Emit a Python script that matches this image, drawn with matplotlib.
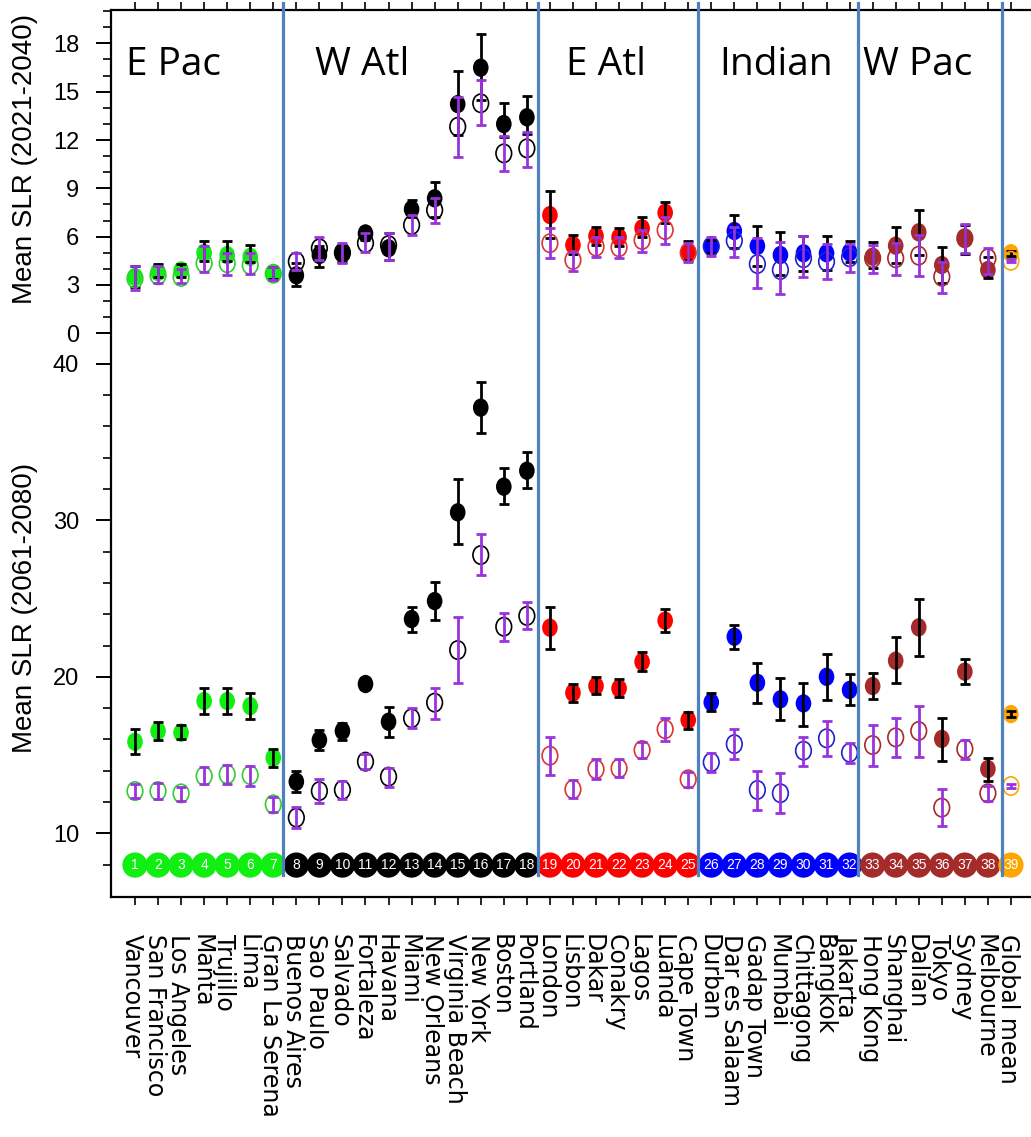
import matplotlib
matplotlib.use('Agg')
import matplotlib.pyplot as plt
import matplotlib.transforms as mtransforms
import numpy as np
from matplotlib.path import Path

plt.rcParams['font.family'] = ['Liberation Sans', 'DejaVu Sans']

# city names, left to right
cities = ["Vancouver", "San Francisco", "Los Angeles", "Manta", "Trujillo", "Lima",
          "Gran La Serena", "Buenos Aires", "Sao Paulo", "Salvado", "Fortaleza", "Havana",
          "Miami", "New Orleans", "Virginia Beach", "New York", "Boston", "Portland",
          "London", "Lisbon", "Dakar", "Conakry", "Lagos", "Luanda", "Cape Town",
          "Durban", "Dar es Salaam", "Gadap Town", "Mumbai", "Chittagong", "Bangkok",
          "Jakarta", "Hong Kong", "Shanghai", "Dalian", "Tokyo", "Sydney", "Melbourne",
          "Global mean"]

# region of each city (index into region lists)
region = [0] * 7 + [1] * 11 + [2] * 7 + [3] * 7 + [4] * 6 + [5]
region_names = ["E Pac", "W Atl", "E Atl", "Indian", "W Pac"]
fill_colors = ['#11ee11', 'black', '#ff0000', '#0000ff', '#a52a2a', '#ffa500']
edge_colors = ['#33cc33', 'black', '#dd3333', '#2222cc', '#a52a2a', '#ffa500']

# mean SLR 2021-2040 (top panel): filled = black bars, open = purple bars
f1 = [3.5, 3.8, 3.9, 5.0, 4.85, 4.75, 3.7, 3.6, 4.86, 4.97, 6.2, 5.28, 7.7, 8.38, 14.23,
      16.49, 12.99, 13.41, 7.34, 5.48, 6.04, 5.96, 6.52, 7.49, 5.07, 5.42, 6.35, 5.42,
      4.86, 4.97, 4.97, 5.03, 4.76, 5.44, 6.27, 4.24, 5.9, 3.93, 4.97]
f1_lo = [2.9, 3.5, 3.5, 4.5, 4.5, 4.4, 3.4, 2.94, 4.13, 4.4, 5.8, 4.55, 7.24, 7.24, 12.3,
         14.48, 12.2, 12.4, 5.9, 4.9, 5.48, 5.42, 5.96, 6.87, 4.55, 5.0, 5.28, 4.18, 3.62,
         3.89, 3.9, 4.45, 4.04, 4.35, 4.86, 3.1, 4.92, 3.41, 4.8]
f1_hi = [4.2, 4.3, 4.3, 5.7, 5.7, 5.5, 4.1, 4.35, 5.4, 5.5, 6.6, 6.2, 8.27, 9.4, 16.28,
         18.56, 14.3, 14.73, 8.83, 6.1, 6.62, 6.56, 7.2, 8.13, 5.75, 5.8, 7.34, 6.68, 6.27,
         6.06, 6.06, 5.75, 5.69, 6.62, 7.65, 5.38, 6.72, 4.76, 5.1]
o1 = [3.4, 3.6, 3.5, 4.35, 4.35, 4.24, 3.7, 4.45, 5.28, 5.0, 5.6, 5.48, 6.72, 7.65, 12.82,
      14.28, 11.17, 11.48, 5.59, 4.55, 5.38, 5.34, 5.79, 6.41, 5.0, 5.4, 5.75, 4.3, 3.93,
      4.66, 4.45, 4.72, 4.66, 4.66, 4.82, 3.51, 5.9, 4.66, 4.5]
o1_lo = [2.7, 3.1, 3.1, 3.8, 3.6, 3.7, 3.3, 3.93, 4.55, 4.35, 5.07, 4.55, 6.1, 6.83, 10.96,
         12.93, 10.1, 10.34, 4.66, 3.89, 4.72, 4.7, 5.03, 5.54, 4.45, 4.8, 4.76, 2.79, 2.44,
         3.48, 3.37, 3.79, 3.77, 3.62, 3.58, 2.48, 4.97, 3.68, 4.4]
o1_hi = [4.2, 4.2, 4.0, 5.4, 4.97, 4.97, 4.1, 4.97, 5.96, 5.59, 6.2, 6.2, 7.34, 8.42, 14.69,
         15.72, 12.25, 12.51, 6.52, 5.07, 6.0, 6.0, 6.41, 7.24, 5.6, 6.0, 6.62, 5.9, 5.65,
         6.04, 5.52, 5.54, 5.48, 5.59, 6.1, 4.45, 6.78, 5.32, 4.6]

# mean SLR 2061-2080 (bottom panel)
f2 = [15.85, 16.54, 16.43, 18.45, 18.45, 18.13, 14.83, 13.3, 15.96, 16.54, 19.54, 17.13,
      23.69, 24.84, 30.51, 37.2, 32.15, 33.17, 23.14, 18.98, 19.41, 19.26, 20.96, 23.59,
      17.24, 18.37, 22.56, 19.62, 18.56, 18.3, 20.0, 19.16, 19.41, 21.03, 23.16, 16.03,
      20.33, 14.11, 17.62]
f2_lo = [15.07, 15.96, 16.0, 17.62, 17.6, 17.28, 14.26, 12.62, 15.32, 15.96, 19.2, 16.17,
         22.88, 23.63, 28.47, 35.6, 31.02, 32.05, 21.78, 18.41, 18.88, 18.73, 20.37, 22.84,
         16.66, 17.83, 21.78, 18.3, 17.24, 16.88, 18.52, 18.2, 18.58, 19.58, 21.35, 14.64,
         19.54, 13.36, 17.45]
f2_hi = [16.66, 17.09, 16.9, 19.26, 19.3, 18.98, 15.37, 13.98, 16.6, 17.07, 19.9, 18.05,
         24.44, 26.04, 32.64, 38.86, 33.32, 34.35, 24.48, 19.54, 20.0, 19.84, 21.6, 24.31,
         17.77, 18.95, 23.31, 20.9, 19.9, 19.62, 21.44, 20.16, 20.22, 22.52, 24.97, 17.39,
         21.14, 14.83, 17.8]
o2 = [12.7, 12.7, 12.55, 13.66, 13.77, 13.72, 11.85, 11.0, 12.7, 12.77, 14.58, 13.62, 17.35,
      18.35, 21.71, 27.78, 23.2, 23.89, 14.96, 12.81, 14.09, 14.15, 15.32, 16.65, 13.45,
      14.54, 15.7, 12.77, 12.56, 15.28, 16.07, 15.15, 15.64, 16.13, 16.54, 11.64, 15.39,
      12.56, 13.02]
o2_lo = [12.24, 12.17, 12.08, 13.15, 13.15, 13.02, 11.38, 10.32, 11.96, 12.17, 14.09, 12.98,
         16.7, 17.28, 19.62, 26.5, 22.31, 23.03, 13.73, 12.24, 13.45, 13.58, 14.79, 15.9,
         12.98, 13.9, 14.75, 11.49, 11.28, 14.3, 14.94, 14.51, 14.32, 14.86, 14.9, 10.49,
         14.75, 12.08, 12.9]
o2_hi = [13.15, 13.23, 12.98, 14.22, 14.36, 14.3, 12.3, 11.7, 13.45, 13.36, 15.05, 14.15,
         18.03, 19.3, 23.84, 29.1, 24.1, 24.76, 16.17, 13.4, 14.73, 14.73, 15.85, 17.35,
         13.94, 15.15, 16.65, 14.0, 13.83, 16.17, 17.2, 15.79, 16.92, 17.35, 18.15, 12.81,
         15.96, 13.02, 13.15]

# where the region divider lines sit, and where the region names start
dividers = [7.41, 18.5, 25.44, 32.38, 38.63]
name_x = [0.61, 8.81, 19.7, 26.34, 32.58]

# top panel shares the axes, sitting above the 40 line
top_base = 41.95
top_k = 1.0294


def to_top(v):
    return top_base + np.asarray(v, dtype=float) * top_k


x = np.arange(1, len(cities) + 1)
fc = [fill_colors[r] for r in region]
ec = [edge_colors[r] for r in region]
purple = '#9933dd'

# slightly tall oval like the stretched original
circ = Path.unit_circle()
oval = Path(circ.vertices * [0.85, 1.0], circ.codes)

fig = plt.figure(figsize=(10.31, 11.37), dpi=100)
ax = fig.add_axes([111 / 1031, 240 / 1137, 920 / 1031, 887 / 1137])


def draw_panel(fy, flo, fhi, oy, olo, ohi, conv):
    fy, flo, fhi = conv(fy), conv(flo), conv(fhi)
    oy, olo, ohi = conv(oy), conv(olo), conv(ohi)
    ax.scatter(x, fy, marker=oval, s=175, c=fc, linewidths=0, zorder=3)
    ax.errorbar(x, fy, yerr=[np.clip(fy - flo, 0, None), np.clip(fhi - fy, 0, None)],
                fmt='none', ecolor='black', elinewidth=2, capsize=3.3, capthick=2, zorder=4)
    ax.scatter(x, oy, marker=oval, s=175, facecolors='none', edgecolors=ec,
               linewidths=1.2, zorder=5)
    ax.errorbar(x, oy, yerr=[np.clip(oy - olo, 0, None), np.clip(ohi - oy, 0, None)],
                fmt='none', ecolor=purple, elinewidth=2, capsize=3.3, capthick=2, zorder=6)


draw_panel(f1, f1_lo, f1_hi, o1, o1_lo, o1_hi, to_top)
draw_panel(f2, f2_lo, f2_hi, o2, o2_lo, o2_hi, lambda v: np.asarray(v, dtype=float))

# numbered city circles along the bottom
num_y = 7.97
ax.scatter(x, np.full(len(x), num_y), s=330, c=fc, linewidths=0, zorder=3, clip_on=False)
for xi in x:
    ax.text(xi, num_y, str(xi), color='white', fontsize=10, ha='center', va='center', zorder=8)

# blue divider lines between regions
for xv in dividers:
    ax.plot([xv, xv], [63.05, 7.34], color='#4f81bd', lw=2.3, clip_on=False, zorder=7)

# region names
for nx, nm in zip(name_x, region_names):
    ax.text(nx, 58.45, nm, fontsize=28, family='Open Sans', va='baseline', ha='left', zorder=8)

ax.set_xlim(-0.04, 39.87)
ax.set_ylim(5.93, 62.61)

# y ticks: bottom panel in its own units, top panel mapped above
top_major = [0, 3, 6, 9, 12, 15, 18]
top_minor = [v for v in range(1, 21) if v % 3 != 0]
bot_major = [10, 20, 30, 40]
bot_minor = [v for v in range(8, 40, 2) if v % 10 != 0]
ax.set_yticks(list(bot_major) + list(to_top(top_major)))
ax.set_yticklabels([str(v) for v in bot_major] + [str(v) for v in top_major])
ax.set_yticks(list(bot_minor) + list(to_top(top_minor)), minor=True)
ax.tick_params(axis='y', which='major', length=11, width=1.4, direction='out',
               labelsize=17, pad=12)
ax.tick_params(axis='y', which='minor', length=6, width=1.2, direction='out')

ax.set_xticks(x)
ax.set_xticklabels(cities, rotation=270, fontsize=17, family='DejaVu Sans')
ax.tick_params(axis='x', which='major', top=True, length=6, width=1.2, direction='out', pad=21)
offset = mtransforms.ScaledTranslation(-3 / 100, 0, fig.dpi_scale_trans)
for lab in ax.get_xticklabels():
    lab.set_transform(lab.get_transform() + offset)

ax.spines['right'].set_visible(False)
for s in ['left', 'top', 'bottom']:
    ax.spines[s].set_linewidth(1.6)

# axis titles
fig.text(25 / 1031, 1 - 159 / 1137, 'Mean SLR (2021-2040)', rotation=90, fontsize=20,
         ha='center', va='center')
fig.text(25 / 1031, 1 - 608 / 1137, 'Mean SLR (2061-2080)', rotation=90, fontsize=20,
         ha='center', va='center')

fig.savefig('out.png', dpi=100)
